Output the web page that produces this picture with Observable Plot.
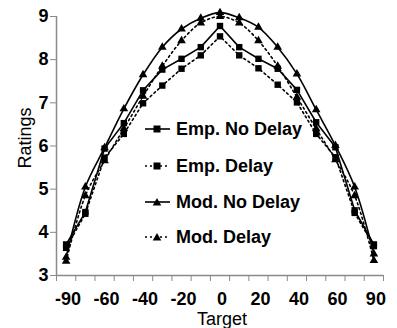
<!DOCTYPE html>
<html><head><meta charset="utf-8">
<script src="https://cdn.jsdelivr.net/npm/d3@7"></script>
<script src="https://cdn.jsdelivr.net/npm/@observablehq/plot@0.6"></script>
<style>
html,body{margin:0;padding:0;background:#fff;}
#wrap{position:relative;width:397px;height:328px;font-family:"Liberation Sans",Arial,sans-serif;color:#000;}
.row{position:absolute;left:143px;height:20px;display:flex;align-items:center;white-space:nowrap;font-weight:bold;font-size:18px;line-height:20px;}
.row svg{display:block;margin-right:4px;}
.ttl{position:absolute;font-size:18px;line-height:18px;white-space:nowrap;}
</style></head><body><div id="wrap"></div>
<script>
const targets = [-90,-75,-60,-50,-40,-30,-20,-10,0,10,20,30,40,50,60,75,90];
const tickLabels = [-90,-60,-40,-20,0,20,40,60,90];
const yTicks = [3,4,5,6,7,8,9];
const empNoDelay = [3.72,4.47,5.94,6.53,7.29,7.77,8.02,8.29,8.78,8.29,8.02,7.79,7.30,6.55,5.97,4.51,3.72];
const empDelay   = [3.64,4.43,5.73,6.28,6.99,7.40,7.79,8.10,8.54,8.10,7.80,7.42,7.01,6.28,5.74,4.45,3.68];
const modNoDelay = [3.42,5.05,5.96,6.86,7.65,8.29,8.71,8.96,9.09,8.97,8.75,8.29,7.67,6.84,6.01,5.05,3.50];
const modDelay   = [3.33,4.85,5.66,6.40,7.15,7.85,8.44,8.85,9.00,8.85,8.44,7.85,7.13,6.40,5.68,4.85,3.35];
const seriesNames = ["Emp. No Delay","Emp. Delay","Mod. No Delay","Mod. Delay"];
const xTitle = "Target";
const yTitle = "Ratings";

const defs = [
  {name: seriesNames[0], values: empNoDelay, dash: null, symbol: "square", r: 3.6, curve: "linear"},
  {name: seriesNames[1], values: empDelay, dash: "2,3", symbol: "square", r: 3.6, curve: "linear"},
  {name: seriesNames[2], values: modNoDelay, dash: null, symbol: "triangle", r: 3.2, curve: "catmull-rom"},
  {name: seriesNames[3], values: modDelay, dash: "2,3", symbol: "triangle", r: 3.2, curve: "catmull-rom"}
];

const boundaries = d3.range(targets.length + 1).map(i => i - 0.5);
const labelIdx = tickLabels.map(t => targets.indexOf(t));
const axisColor = "#8a8a8a";
const font = {fontSize: 18, fontWeight: "bold"};

const marks = [
  Plot.ruleX([-0.5], {stroke: axisColor, strokeWidth: 1.5}),
  Plot.ruleY([3], {stroke: axisColor, strokeWidth: 1.5}),
  Plot.axisY({ticks: yTicks, tickSize: 6, tickPadding: 2, tickFormat: d => String(d), stroke: axisColor, fill: "#000", label: null, ...font}),
  Plot.axisX({ticks: boundaries, tickSize: 6, tickFormat: () => "", stroke: axisColor, label: null}),
  Plot.axisX({ticks: labelIdx, tickSize: 0, tickPadding: 17, tickFormat: i => String(targets[i]), fill: "#000", label: null, dx: 2, ...font})
];
for (const s of defs) {
  const data = s.values.map((v, i) => ({i, v}));
  marks.push(Plot.line(data, {x: "i", y: "v", stroke: "#000", strokeWidth: 1.6, strokeDasharray: s.dash, curve: s.curve}));
  marks.push(Plot.dot(data, {x: "i", y: "v", symbol: s.symbol, r: s.r, fill: "#000", stroke: "none"}));
}

const chart = Plot.plot({
  width: 397, height: 328,
  marginLeft: 56, marginRight: 14, marginTop: 16, marginBottom: 53,
  style: {fontFamily: '"Liberation Sans", Arial, sans-serif', background: "#fff", color: "#000"},
  x: {type: "linear", domain: [-0.5, targets.length - 0.5]},
  y: {domain: [3, 9]},
  marks
});
const wrap = document.getElementById("wrap");
wrap.appendChild(chart);

const yT = document.createElement("div");
yT.className = "ttl";
yT.textContent = yTitle;
yT.style.left = "25px"; yT.style.top = "138px";
yT.style.transform = "translate(-50%,-50%) rotate(-90deg)";
wrap.appendChild(yT);

const xT = document.createElement("div");
xT.className = "ttl";
xT.textContent = xTitle;
xT.style.left = "222px"; xT.style.top = "310px";
xT.style.transform = "translateX(-50%)";
wrap.appendChild(xT);

const rowY = [129, 166, 202, 237];
defs.forEach((s, k) => {
  const row = document.createElement("div");
  row.className = "row";
  row.style.top = (rowY[k] - 10) + "px";
  const sym = s.symbol === "square"
    ? `<rect x="10.5" y="3.5" width="7" height="7" fill="#000"/>`
    : `<path d="M14,3 L18.3,10.5 L9.7,10.5 Z" fill="#000"/>`;
  row.innerHTML = `<svg width="29" height="14"><line x1="2" y1="7" x2="27" y2="7" stroke="#000" stroke-width="1.6" ${s.dash ? `stroke-dasharray="${s.dash}"` : ""}/>${sym}</svg><span>${s.name}</span>`;
  wrap.appendChild(row);
});
</script></body></html>
